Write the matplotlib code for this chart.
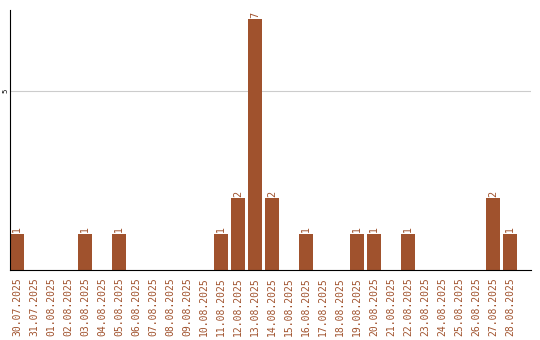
import matplotlib.pyplot as plt

dates = ['30.07.2025', '31.07.2025', '01.08.2025', '02.08.2025', '03.08.2025',
         '04.08.2025', '05.08.2025', '06.08.2025', '07.08.2025', '08.08.2025',
         '09.08.2025', '10.08.2025', '11.08.2025', '12.08.2025', '13.08.2025',
         '14.08.2025', '15.08.2025', '16.08.2025', '17.08.2025', '18.08.2025',
         '19.08.2025', '20.08.2025', '21.08.2025', '22.08.2025', '23.08.2025',
         '24.08.2025', '25.08.2025', '26.08.2025', '27.08.2025', '28.08.2025']
counts = [1, 0, 0, 0, 1, 0, 1, 0, 0, 0,
          0, 0, 1, 2, 7, 2, 0, 1, 0, 0,
          1, 1, 0, 1, 0, 0, 0, 0, 2, 1]

color = '#a0522d'

fig = plt.figure(figsize=(5.4, 3.4), dpi=100)
ax = fig.add_axes([10 / 540, 70 / 340, 521 / 540, 260 / 340])

x = list(range(len(dates)))
ax.bar(x, counts, width=0.82, color=color, zorder=2)

for i, c in enumerate(counts):
    if c > 0:
        ax.text(i, c + 0.05, str(c), rotation=90, ha='center', va='bottom',
                color=color, fontsize=7)

ax.set_xlim(-0.41, 30.24)
ax.set_ylim(0, 7.26)
ax.set_yticks([5])
ax.set_yticklabels(['5'], rotation=90, va='center', fontsize=5)
ax.tick_params(axis='y', length=0, pad=1)
ax.yaxis.grid(True, color='#cccccc', linewidth=0.8, zorder=0)

ax.set_xticks(x)
ax.set_xticklabels(dates, rotation=90, fontsize=7, color=color,
                   family='DejaVu Sans Mono')
ax.tick_params(axis='x', length=0, pad=5)

ax.spines['top'].set_visible(False)
ax.spines['right'].set_visible(False)

fig.savefig('out.png', dpi=100)
